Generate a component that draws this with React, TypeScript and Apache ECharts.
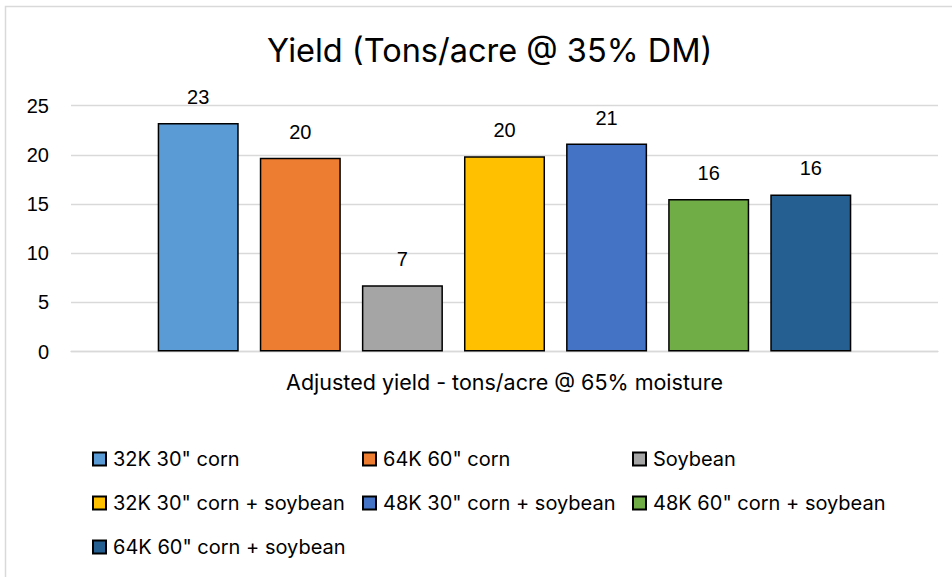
import React, { useEffect, useRef } from "react";
import * as echarts from "echarts";

const categories = ["Adjusted yield - tons/acre @ 65% moisture"];
const seriesNames = [
  '32K 30" corn',
  '64K 60" corn',
  "Soybean",
  '32K 30" corn + soybean',
  '48K 30" corn + soybean',
  '48K 60" corn + soybean',
  '64K 60" corn + soybean',
];
const seriesValues = [23.25, 19.7, 6.75, 19.85, 21.15, 15.52, 15.98];
const seriesColors = ["#5B9BD5", "#ED7D31", "#A5A5A5", "#FFC000", "#4472C4", "#70AD47", "#255E91"];
const yTicks = { min: 0, max: 25, interval: 5 };

const TEXT_FONT = "Inter, 'Open Sans', sans-serif";
const NUM_FONT = "'Liberation Sans', Arial, sans-serif";

export default function App() {
  const ref = useRef<HTMLDivElement>(null);
  useEffect(() => {
    if (!ref.current) return;
    const chart = echarts.init(ref.current, undefined, { renderer: "svg" });
    chart.setOption({
      animation: false,
      backgroundColor: "#ffffff",
      title: {
        text: "Yield (Tons/acre @ 35% DM)",
        left: 262,
        top: 29,
        textStyle: { fontFamily: TEXT_FONT, fontSize: 32.5, fontWeight: "normal", color: "#000000" },
      },
      graphic: [
        {
          type: "rect",
          shape: { x: 5.5, y: 6.5, width: 1000, height: 1000 },
          style: { fill: "none", stroke: "#d9d9d9", lineWidth: 1.5 },
          silent: true,
          z: -1,
        },
      ],
      grid: { left: 71, right: 14, top: 105.7, bottom: 225.5, containLabel: false },
      xAxis: {
        type: "category",
        data: categories,
        axisLine: { show: true, lineStyle: { color: "#d9d9d9", width: 1.3 } },
        axisTick: { show: false },
        axisLabel: { margin: 19, fontFamily: TEXT_FONT, fontSize: 21.5, color: "#000000" },
      },
      yAxis: {
        type: "value",
        min: yTicks.min,
        max: yTicks.max,
        interval: yTicks.interval,
        axisLine: { show: false },
        axisTick: { show: false },
        splitLine: { lineStyle: { color: "#d9d9d9", width: 1.3 } },
        axisLabel: { margin: 22, fontFamily: NUM_FONT, fontSize: 20, color: "#000000" },
      },
      legend: {
        left: 87,
        top: 432,
        width: 820,
        itemWidth: 13,
        itemHeight: 13,
        itemGap: 0,
        icon: "rect",
        data: seriesNames,
        textStyle: {
          fontFamily: TEXT_FONT,
          fontSize: 20,
          color: "#000000",
          width: 249,
          lineHeight: 44,
          padding: [0, 0, 0, 2],
          overflow: "none",
        },
      },
      series: seriesNames.map((name, i) => ({
        name,
        type: "bar",
        data: [seriesValues[i]],
        barGap: "26%",
        barCategoryGap: "20%",
        itemStyle: { color: seriesColors[i], borderColor: "#000000", borderWidth: 1.5 },
        label: {
          show: true,
          position: "top",
          distance: 16,
          fontFamily: NUM_FONT,
          fontSize: 20,
          color: "#000000",
          formatter: (p: any) => String(Math.round(p.value)),
        },
      })),
    });
    return () => chart.dispose();
  }, []);
  return (
    <div
      ref={ref}
      style={{ position: "fixed", left: 0, top: 0, width: 952, height: 577, background: "#fff" }}
    />
  );
}
